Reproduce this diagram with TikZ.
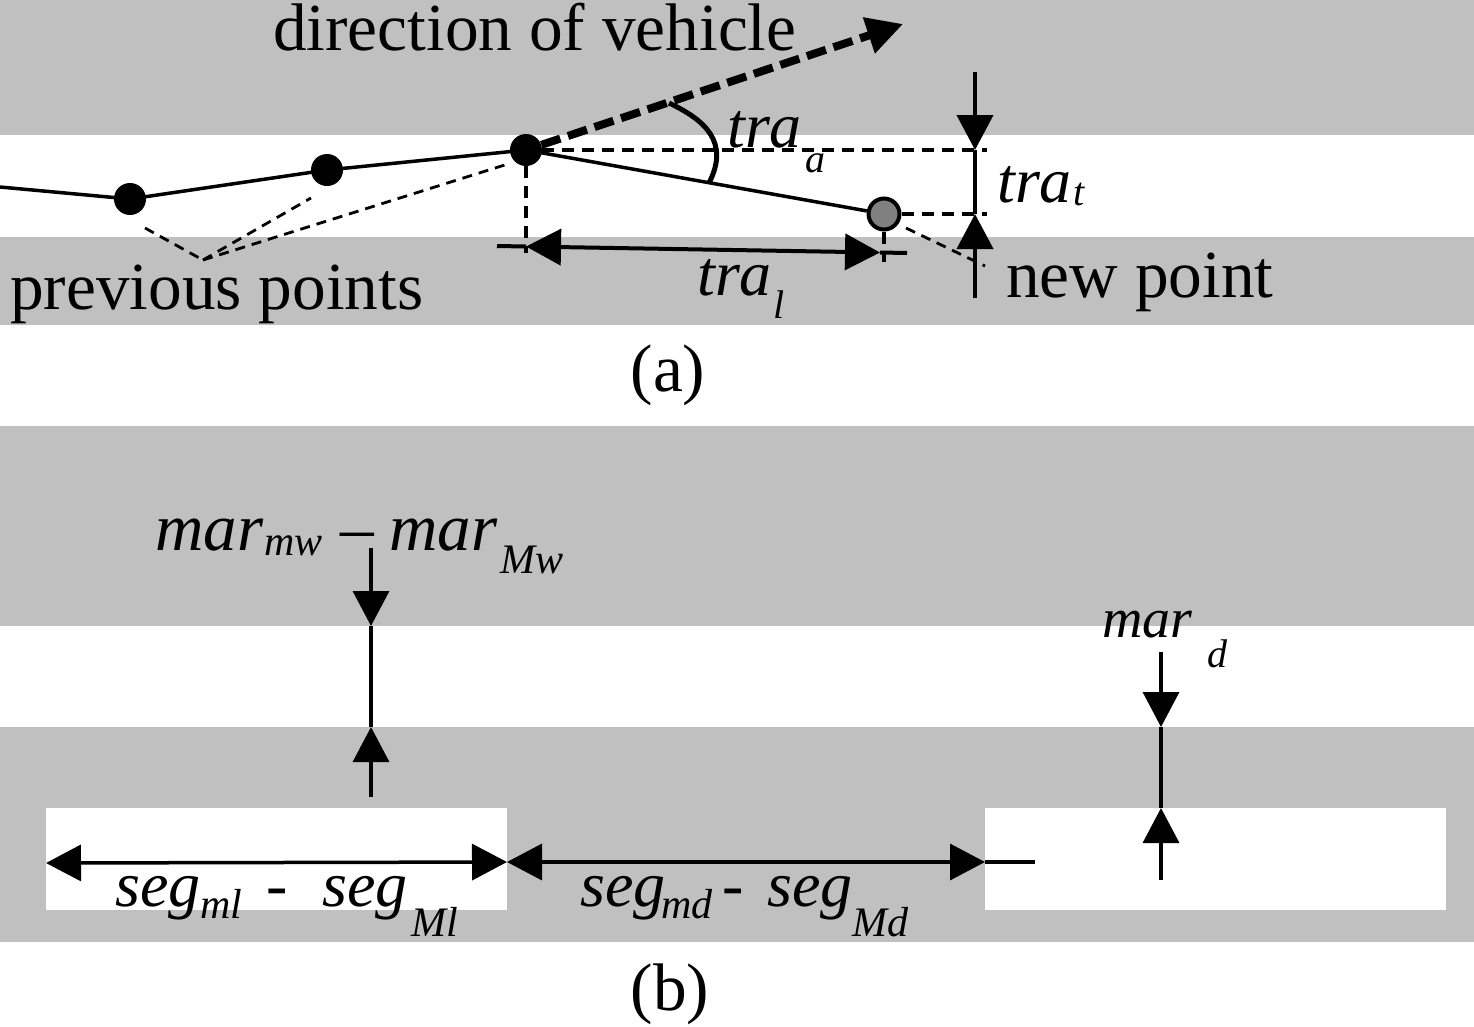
\documentclass[tikz,border=0pt]{standalone}
\usepackage{fontspec}
\setmainfont{Liberation Serif}
\usetikzlibrary{arrows.meta}
\definecolor{band}{RGB}{192,192,192}
\definecolor{ptgray}{RGB}{128,128,128}
\begin{document}
\begin{tikzpicture}[x=1pt,y=-1pt,
  rom/.style={font=\fontsize{67.3}{80}\selectfont, inner sep=0pt, anchor=base west},
  ital/.style={font=\fontsize{64}{76}\selectfont\itshape, inner sep=0pt, anchor=base west},
  italm/.style={font=\fontsize{67}{80}\selectfont\itshape, inner sep=0pt, anchor=base west},
  itald/.style={font=\fontsize{56}{67}\selectfont\itshape, inner sep=0pt, anchor=base west},
  subs/.style={font=\fontsize{40}{48}\selectfont\itshape, inner sep=0pt, anchor=base west},
  subm/.style={font=\fontsize{42}{50}\selectfont\itshape, inner sep=0pt, anchor=base west},
  dot/.style={circle, fill=black, minimum size=32pt, inner sep=0pt},
  newdot/.style={circle, fill=ptgray, draw=black, line width=4pt, minimum size=31pt, inner sep=0pt},
  thin/.style={line width=3.5pt},
  dim/.style={line width=4pt},
  dsh/.style={line width=3.5pt, dash pattern=on 12pt off 8pt},
  dshthin/.style={line width=2.8pt, dash pattern=on 10pt off 7pt},
  tipT/.style={-{Triangle[length=35pt,width=36pt]}},
  tipTT/.style={{Triangle[length=35pt,width=36pt]}-{Triangle[length=35pt,width=36pt]}}
]
\useasboundingbox (0,0) rectangle (1474,1026);
% bands (a)
\fill[band] (0,0) rectangle (1474,135);
\fill[band] (0,237) rectangle (1474,325);
% bands (b)
\fill[band] (0,426) rectangle (1474,626);
\fill[band] (0,727) rectangle (1474,942);
\fill[white] (46,808) rectangle (507,910);
\fill[white] (985,808) rectangle (1446,910);

% ---------- (a) ----------
\coordinate (start) at (0,187);
\node[dot] (p1) at (130,199) {};
\node[dot] (p2) at (327,170) {};
\node[dot] (p3) at (526,150) {};
\node[newdot] (np) at (884,214) {};
\draw[thin] (start) -- (p1.center) -- (p2.center) -- (p3.center) -- (np);

% direction of vehicle
\coordinate (dirtip) at (903,24);
\draw[line width=8pt, dash pattern=on 20pt off 8pt, -{Triangle[length=36pt,width=36pt]}] (p3) -- (dirtip);
\node[rom] (dirlbl) at (273,50) {direction of vehicle};

% angle
\coordinate (ang1) at (669,103);
\coordinate (ang2) at (709,183);
\draw[line width=5pt] (ang1) .. controls (705,120) and (730,142) .. (ang2);
\node[ital] (traa) at (727,147) {tra};
\node[subs] (traasub) at (805,172) {a};

% dashed construction lines
\coordinate (h1e) at (987,150);
\coordinate (h2e) at (987,214);
\draw[dsh] (p3.east) -- (h1e);
\draw[dsh] (np.east) -- (h2e);
\coordinate (v1e) at (526,253);
\coordinate (v2e) at (884,262);
\draw[dsh] (p3.south) -- (v1e);
\draw[dsh] (np.south) -- (v2e);

% tra_t
\coordinate (tt0) at (975,72);
\coordinate (tt1) at (975,150);
\coordinate (tt2) at (975,214);
\coordinate (tt3) at (975,298);
\draw[dim, tipT] (tt0) -- (tt1);
\draw[dim] (tt1) -- (tt2);
\draw[dim, tipT] (tt3) -- (tt2);
\node[ital] (trat) at (997,202) {tra};
\node[subs] (tratsub) at (1073,205) {t};

% tra_l
\coordinate (tl0) at (497,246);
\coordinate (tl1) at (526,246.5);
\coordinate (tl2) at (880,252.5);
\coordinate (tl3) at (907,253);
\draw[dim] (tl0) -- (tl1);
\draw[dim, tipTT] (tl1) -- (tl2);
\draw[dim] (tl2) -- (tl3);
\node[ital] (tral) at (697,295) {tra};
\node[subs] (tralsub) at (773,318) {l};

% previous points
\coordinate (pp) at (203,260);
\coordinate (pp1) at (145,228);
\coordinate (pp2) at (311,198);
\coordinate (pp3) at (511,163);
\draw[dshthin] (pp1) -- (pp);
\draw[dshthin] (pp) -- (pp2);
\draw[dshthin] (pp) -- (pp3);
\node[rom] (prevlbl) at (10,309) {previous points};

% new point
\coordinate (np1) at (906,228);
\coordinate (np2) at (985,266);
\draw[dshthin] (np1) -- (np2);
\node[rom] (newlbl) at (1006,297) {new point};

\node[rom, anchor=base] (capa) at (668,391) {(a)};

% ---------- (b) ----------
% mar_mw - mar_Mw
\coordinate (mw0) at (371,548);
\coordinate (mw1) at (371,626);
\coordinate (mw2) at (371,727);
\coordinate (mw3) at (371,797);
\draw[thin, tipT] (mw0) -- (mw1);
\draw[thin] (mw1) -- (mw2);
\draw[thin, tipT] (mw3) -- (mw2);
\node[italm] (mar1) at (155,550) {mar};
\node[subm] (mar1sub) at (264,555) {mw};
\node[rom] (mardash) at (340,550) {\textendash};
\node[italm] (mar2) at (389,550) {mar};
\node[subm] (mar2sub) at (500,573) {Mw};

% mar_d
\coordinate (md0) at (1161,652);
\coordinate (md1) at (1161,727);
\coordinate (md2) at (1161,808);
\coordinate (md3) at (1161,880);
\draw[thin, tipT] (md0) -- (md1);
\draw[thin] (md1) -- (md2);
\draw[thin, tipT] (md3) -- (md2);
\node[itald] (mar3) at (1102,637) {mar};
\node[subs] (mar3sub) at (1207,667) {d};

% seg arrows
\coordinate (s0) at (46,863);
\coordinate (s1) at (507,862);
\coordinate (s2) at (985,862);
\coordinate (s3) at (1035,862);
\draw[thin, tipTT] (s0) -- (s1);
\draw[thin, tipTT] (s1) -- (s2);
\draw[thin] (s2) -- (s3);
\node[ital] (seg1) at (115,906) {seg};
\node[subm] (seg1sub) at (200,918) {ml};
\node[ital] (seg1dash) at (266,906) {-};
\node[ital] (seg2) at (322,906) {seg};
\node[subm] (seg2sub) at (411,936) {Ml};
\node[ital] (seg3) at (580,906) {seg};
\node[subm] (seg3sub) at (661,918) {md};
\node[ital] (seg3dash) at (722,906) {-};
\node[ital] (seg4) at (767,906) {seg};
\node[subm] (seg4sub) at (852,936) {Md};

\node[rom, anchor=base] (capb) at (670,1010) {(b)};
\end{tikzpicture}
\end{document}
